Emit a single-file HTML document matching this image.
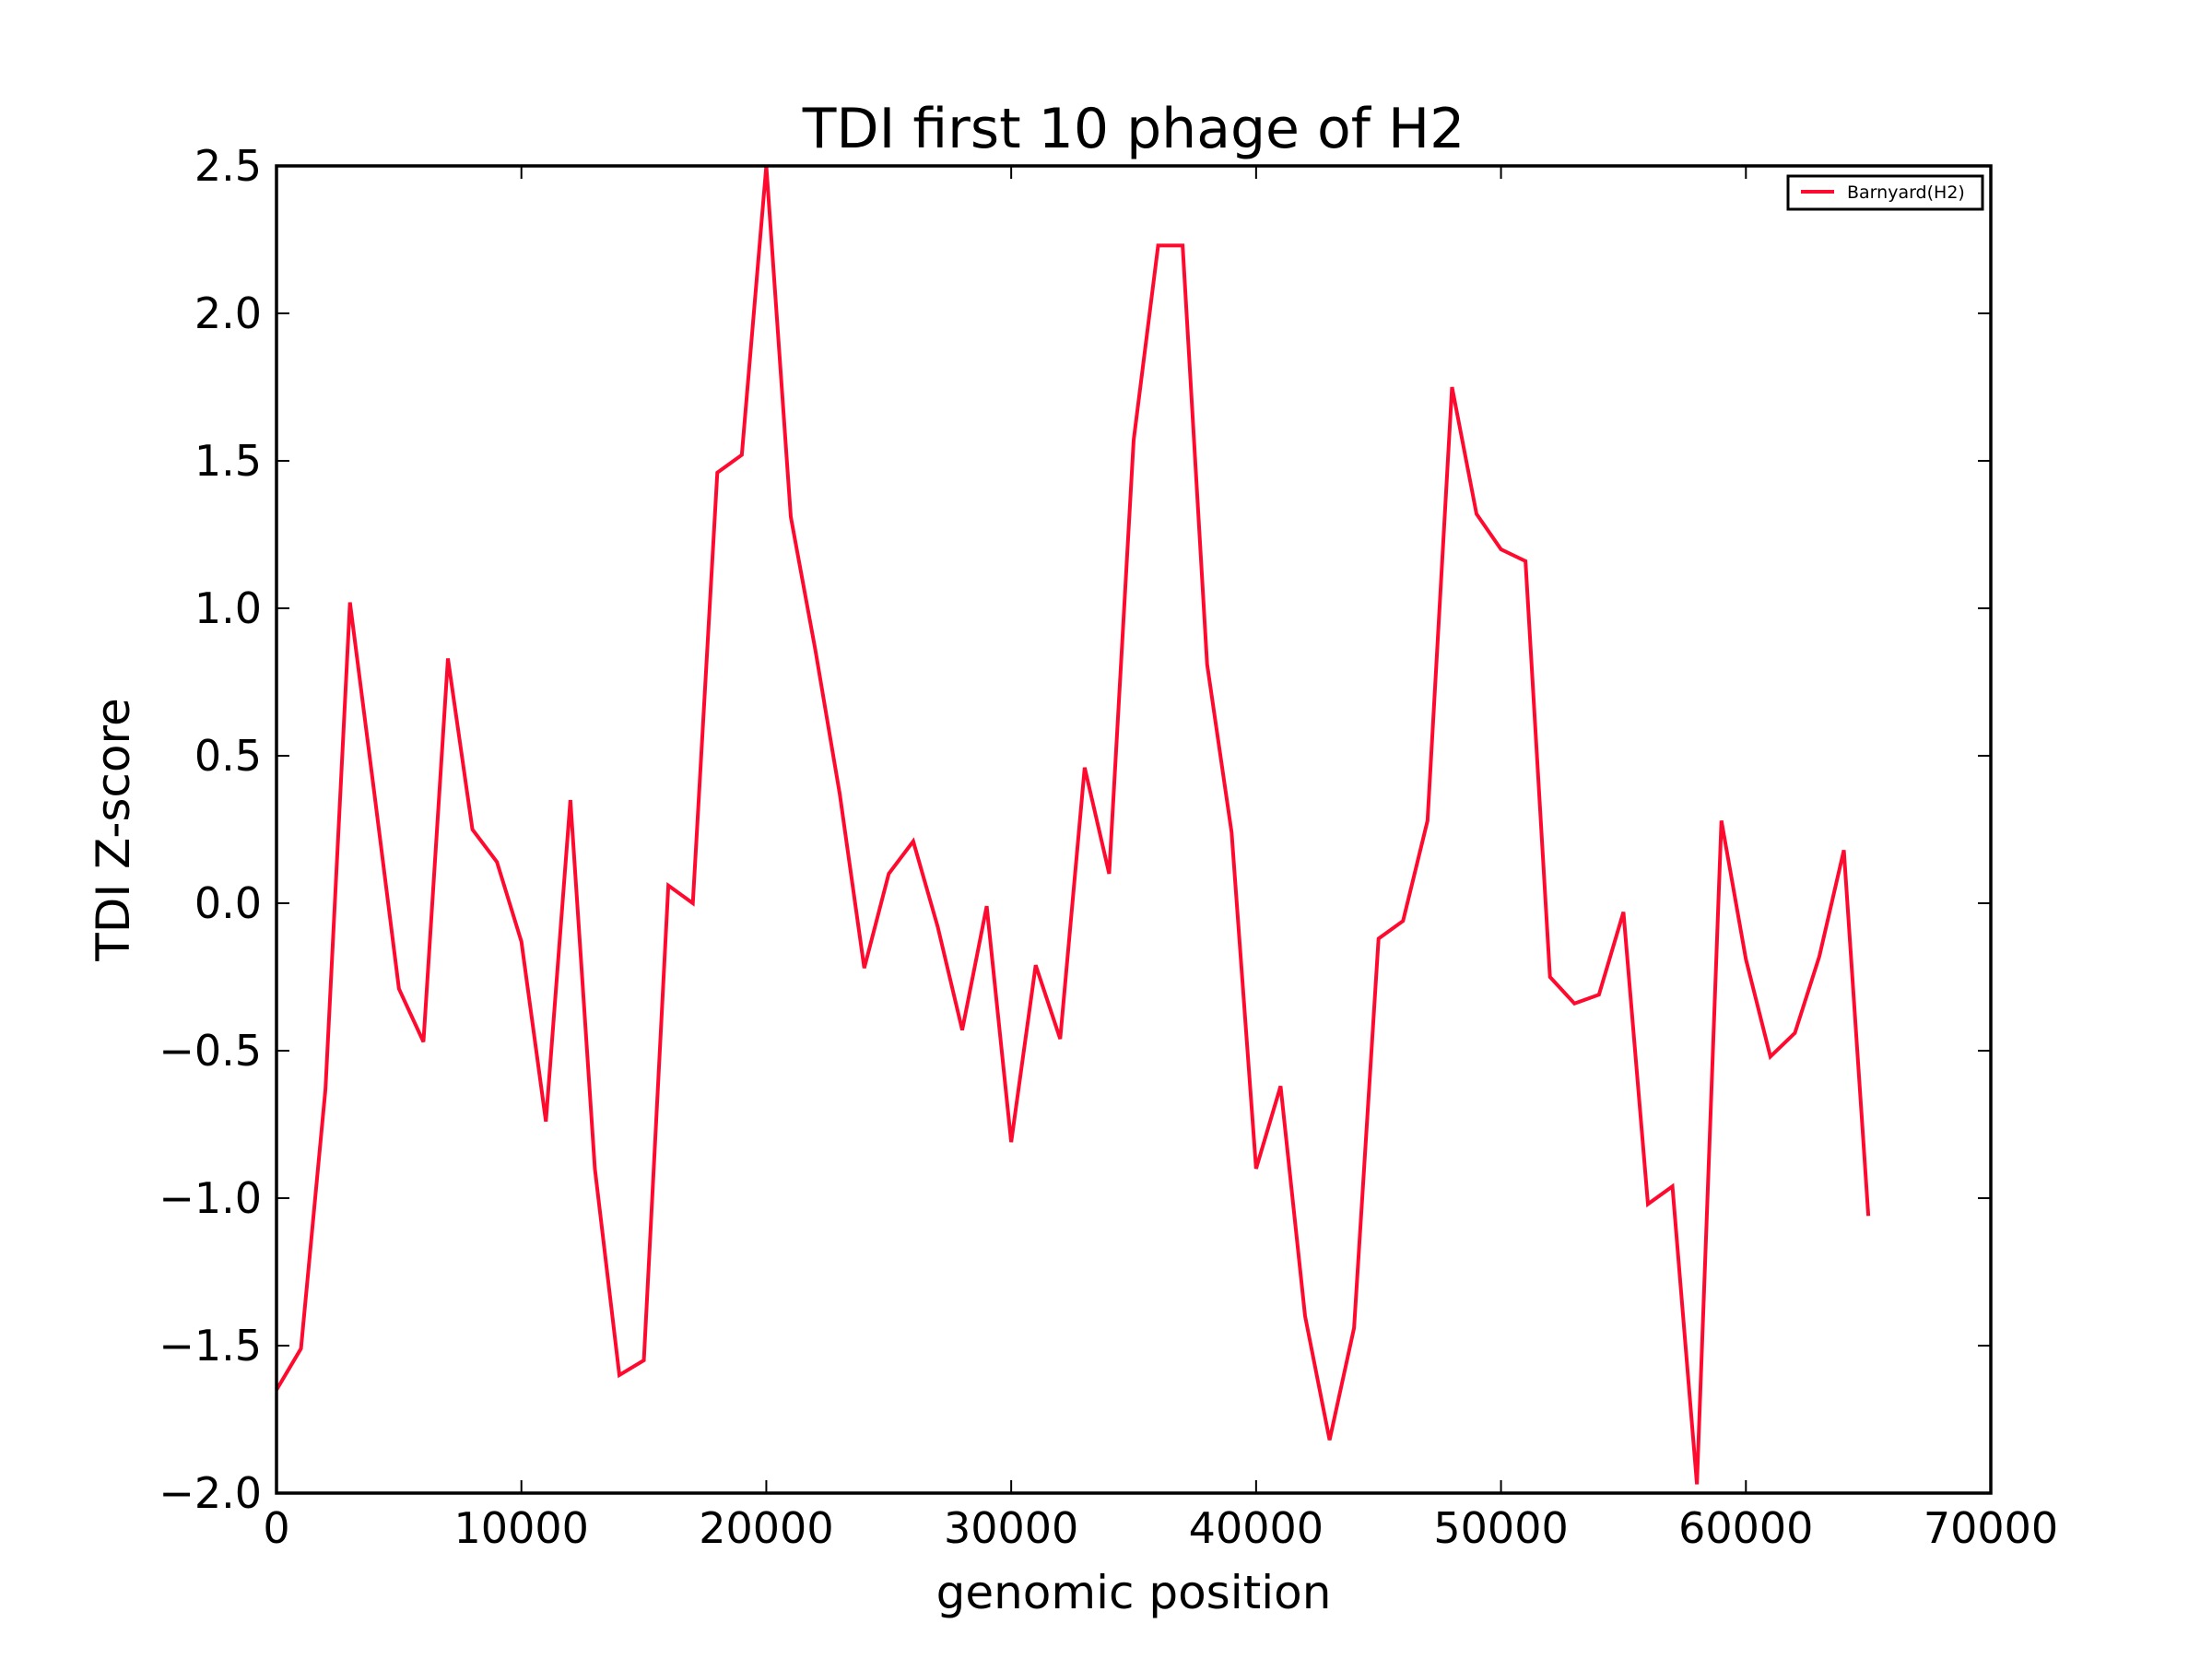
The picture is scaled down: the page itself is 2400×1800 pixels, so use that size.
<!DOCTYPE html>
<html><head><meta charset="utf-8"><style>
html,body{margin:0;padding:0;background:#fff}
svg{display:block;font-family:"DejaVu Sans","Liberation Sans",sans-serif}
</style></head><body>
<svg id="chart" width="2400" height="1800" viewBox="0 0 2400 1800">
<rect width="2400" height="1800" fill="#fff"/>
<text x="1230" y="160" font-size="60" text-anchor="middle">TDI first 10 phage of H2</text>
<text x="1230" y="1745" font-size="50" text-anchor="middle">genomic position</text>
<text x="0" y="0" font-size="50" text-anchor="middle" transform="translate(140,900) rotate(-90)">TDI Z-score</text>
<g id="ticks"></g>
<polyline id="series" fill="none" stroke="#ff0a2f" stroke-width="4" stroke-linejoin="miter"/>
<rect x="300" y="180" width="1860" height="1440" fill="none" stroke="#000" stroke-width="3.5"/>
<g>
<rect x="1940" y="191" width="211" height="36" fill="#fff" stroke="#000" stroke-width="3"/>
<line x1="1954" y1="208" x2="1990" y2="208" stroke="#ff0a2f" stroke-width="4"/>
<text x="2004" y="215" font-size="19">Barnyard(H2)</text>
</g>
</svg>
<script>
const xs = [0,1000,2000,3000,4000,5000,6000,7000,8000,9000,10000,11000,12000,13000,14000,15000,16000,17000,18000,19000,20000,21000,22000,23000,24000,25000,26000,27000,28000,29000,30000,31000,32000,33000,34000,35000,36000,37000,38000,39000,40000,41000,42000,43000,44000,45000,46000,47000,48000,49000,50000,51000,52000,53000,54000,55000,56000,57000,58000,59000,60000,61000,62000,63000,64000,65000];
const zScores = [-1.65,-1.51,-0.63,1.02,0.37,-0.29,-0.47,0.83,0.25,0.14,-0.13,-0.74,0.35,-0.90,-1.60,-1.55,0.06,0.00,1.46,1.52,2.50,1.31,0.86,0.37,-0.22,0.10,0.21,-0.08,-0.43,-0.01,-0.81,-0.21,-0.46,0.46,0.10,1.57,2.23,2.23,0.81,0.24,-0.90,-0.62,-1.40,-1.82,-1.44,-0.12,-0.06,0.28,1.75,1.32,1.20,1.16,-0.25,-0.34,-0.31,-0.03,-1.02,-0.96,-1.97,0.28,-0.19,-0.52,-0.44,-0.18,0.18,-1.06];
const xTicks = [0,10000,20000,30000,40000,50000,60000,70000];
const yTicks = [-2.0,-1.5,-1.0,-0.5,0.0,0.5,1.0,1.5,2.0,2.5];
const yTickLabels = ["\u22122.0","\u22121.5","\u22121.0","\u22120.5","0.0","0.5","1.0","1.5","2.0","2.5"];

const X0=300,X1=2160,Y0=1620,Y1=180,xmin=0,xmax=70000,ymin=-2,ymax=2.5;
function sx(v){return X0+(v-xmin)/(xmax-xmin)*(X1-X0);}
function sy(v){return Y0-(v-ymin)/(ymax-ymin)*(Y0-Y1);}
const NS="http://www.w3.org/2000/svg";
const g=document.getElementById('ticks');
function mk(tag,attrs){const e=document.createElementNS(NS,tag);for(const k in attrs)e.setAttribute(k,attrs[k]);g.appendChild(e);return e;}
xTicks.forEach(function(t){
  const px=sx(t);
  let a=mk('line',{x1:px,x2:px,y1:Y0,y2:Y0-14,stroke:'#000','stroke-width':2});
  
  
  let b=mk('line',{x1:px,x2:px,y1:Y1,y2:Y1+14,stroke:'#000','stroke-width':2});
  
  
  let tx=mk('text',{x:px,y:Y0+54,'font-size':46,'text-anchor':'middle'});
  tx.textContent=String(t);
  
  
});
yTicks.forEach(function(t,i){
  const py=sy(t);
  let a=mk('line',{x1:X0,x2:X0+14,y1:py,y2:py,stroke:'#000','stroke-width':2});
  
  
  let b=mk('line',{x1:X1,x2:X1-14,y1:py,y2:py,stroke:'#000','stroke-width':2});
  
  
  let tx=mk('text',{x:X0-16,y:py+16,'font-size':46,'text-anchor':'end'});
  tx.textContent=yTickLabels[i];
  
  
});
document.getElementById('series').setAttribute('points',xs.map(function(x,i){return sx(x)+','+sy(zScores[i]);}).join(' '));
</script>
</body></html>
